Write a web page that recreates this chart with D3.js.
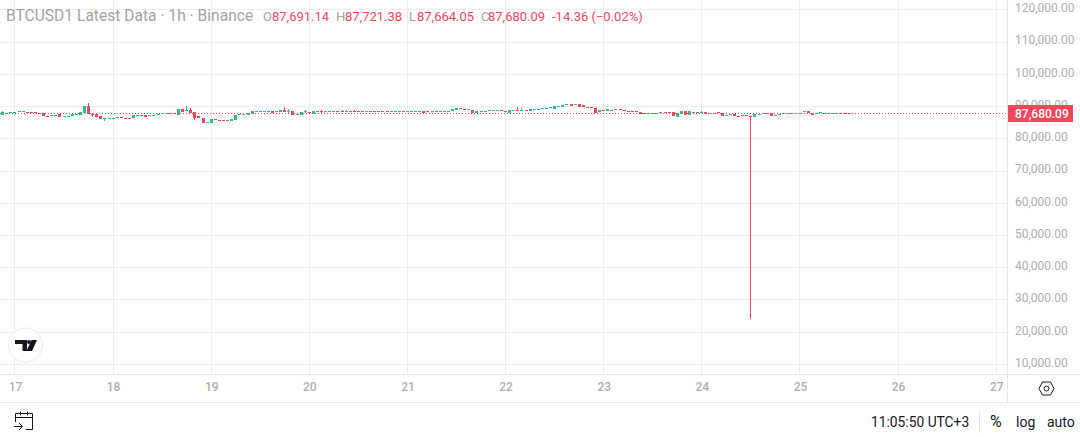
<!DOCTYPE html>
<html>
<head>
<meta charset="utf-8">
<script src="https://cdn.jsdelivr.net/npm/d3@7/dist/d3.min.js"></script>
<style>
  html, body { margin: 0; padding: 0; background: #fff; overflow: hidden; }
  svg { display: block; }
  text { font-family: Roboto, sans-serif; }
</style>
</head>
<body>
<div id="chart"></div>
<script>
const width = 1080, height = 437;

// hourly candles. candle 0 is 3 hours before the 17th
const firstHour = -3;
const opens = [
  87200,87900,87800,87900,88000,88000,88200,88000,88000,87800,
  87800,86900,86900,86900,87400,86600,86700,86800,87200,87100,
  87700,89900,87600,87400,86800,86100,86100,86000,86300,86600,
  86400,86400,86200,86800,86800,87100,86800,86800,87200,87500,
  87600,87800,87800,87400,89200,88600,88800,88200,86800,86200,
  84700,84700,85900,85800,85800,85600,85400,85600,87200,87300,
  87200,87500,88100,88200,88400,88400,88600,88100,88200,88700,
  88100,88400,87200,87200,88000,88200,87700,88500,88400,88000,
  88300,88300,88500,88600,88400,88500,88500,88500,88500,88300,
  88500,88500,88500,88500,88500,88300,88300,88300,88500,88300,
  88300,88300,88300,88500,88400,88000,88400,88300,88300,88300,
  88300,88600,89300,89000,88700,88800,87800,88000,88300,88700,
  88300,88600,88800,88600,87900,88600,88900,88600,88900,88600,
  89000,89000,89000,89300,89300,89200,89900,89900,90300,90600,
  90100,90600,90400,89800,89600,89500,88000,88700,88300,88900,
  88700,89100,88800,88600,88600,88300,88000,87900,87900,87900,
  87900,87900,88200,88100,88000,86700,87400,88400,87100,88200,
  87800,87800,88000,87400,87900,88000,87900,87100,87200,87400,
  86900,87100,87100,86900,86400,87200,87400,87600,87700,86800,
  87200,87400,87400,87400,87400,87700,87900,88300,87900,87700,
  87800,87900,87900,87700,87700,87900,87900,87900
];
const closes = [
  88000,87800,88100,88100,88300,88300,87900,87800,87800,87500,
  86800,86700,87200,87300,86500,86800,86900,87400,87500,88100,
  89900,87400,87300,86500,85800,86300,86300,86300,86600,86300,
  86200,86200,87100,87100,87100,86500,87100,87100,87400,87800,
  87800,87500,87500,89200,88200,88900,88000,86400,86200,84700,
  85100,85900,85600,85600,85600,85800,85900,87200,87600,87600,
  87800,88400,88400,88400,88600,88600,87900,88400,88700,88200,
  88400,87200,87500,88200,88300,88000,88600,88300,88100,88400,
  88500,88500,88300,88300,88600,88300,88300,88300,88300,88500,
  88300,88200,88300,88300,88300,88500,88500,88500,88300,88500,
  88500,88500,88500,87900,88000,88400,88000,88500,88500,88500,
  89000,89300,89000,88700,89000,87800,88300,88400,88500,88300,
  88700,88800,88600,88400,88800,88900,88600,88900,88600,89200,
  89200,89200,89300,89500,89600,90100,90100,90400,90700,89900,
  90500,89700,89900,89500,89300,88000,88700,88300,89000,88700,
  89000,88800,88500,88300,88400,87900,87400,87700,87700,87700,
  87700,88200,87800,87800,86700,87800,88400,87100,88300,87900,
  88100,88100,87400,87800,87700,87800,87100,87300,87400,86800,
  86800,86800,86800,86700,87400,87400,87700,87900,86800,87100,
  87600,87800,87700,87700,87800,87900,88300,87700,87400,87900,
  88100,87700,87700,87900,87900,87700,87700,87700
];
// only the candles with a wick you can see
const wickCandles = [0, 21, 22, 25, 45, 46, 47, 51, 69, 70, 74, 78, 83, 84, 86, 126, 127, 171, 183];
const wickHighs = [88300, 90800, 87900, null, 89900, 89400, null, 85300, 89700, 89200, 88900, 88700, 88900, 88900, 88900, 89800, 89500, 88500, null];
const wickLows = [null, null, 86600, 85500, null, 88100, 85800, null, null, null, null, 87800, null, null, null, null, null, null, 24100];

const priceTicks = [120000, 110000, 100000, 90000, 80000, 70000, 60000, 50000, 40000, 30000, 20000, 10000];
const dayLabels = ['17', '18', '19', '20', '21', '22', '23', '24', '25', '26', '27'];
const lastPrice = 87680.09;

const headerTitle = 'BTCUSD1 Latest Data · 1h · Binance';
const ohlcNames = ['O', 'H', 'L', 'C'];
const ohlcValues = ['87,691.14', '87,721.38', '87,664.05', '87,680.09'];
const changeText = '-14.36 (−0.02%)';

const red = '#f6465d', green = '#2ebd85', gridColor = '#eeeeee', borderColor = '#e6e6e6', labelGray = '#aeaeae';
const paneRight = 1008, paneBottom = 375, footerTop = 402;

const svg = d3.select('#chart').append('svg').attr('width', width).attr('height', height);

const x = d3.scaleLinear().domain([0, 240]).range([14.99, 996.2]);
const y = d3.scaleLinear().domain([10000, 120000]).range([364.5, 9.75]);
const snap = v => Math.floor(v) + 0.5;

const grid = svg.append('g').attr('stroke', gridColor);
grid.selectAll('line.h').data(priceTicks).join('line').attr('class', 'h')
  .attr('x1', 0).attr('x2', paneRight)
  .attr('y1', d => snap(y(d))).attr('y2', d => snap(y(d)));
grid.selectAll('line.v').data(dayLabels).join('line').attr('class', 'v')
  .attr('x1', (d, i) => snap(x(i * 24))).attr('x2', (d, i) => snap(x(i * 24)))
  .attr('y1', 0).attr('y2', paneBottom);

// frame of the axes
const frame = svg.append('g').attr('stroke', borderColor);
frame.append('line').attr('x1', 0).attr('x2', width).attr('y1', paneBottom - 0.5).attr('y2', paneBottom - 0.5);
frame.append('line').attr('x1', 0).attr('x2', width).attr('y1', footerTop + 0.5).attr('y2', footerTop + 0.5);
frame.append('line').attr('x1', paneRight - 0.5).attr('x2', paneRight - 0.5).attr('y1', 0).attr('y2', footerTop);
frame.append('line').attr('x1', 979.5).attr('x2', 979.5).attr('y1', 411).attr('y2', 433);

const candles = opens.map((open, i) => {
  const close = closes[i];
  const w = wickCandles.indexOf(i);
  return {
    i, open, close,
    high: w >= 0 && wickHighs[w] !== null ? wickHighs[w] : Math.max(open, close),
    low: w >= 0 && wickLows[w] !== null ? wickLows[w] : Math.min(open, close),
    color: close >= open ? green : red,
  };
});
const cx = d => Math.floor(x(d.i + firstHour));

const candleG = svg.append('g').attr('shape-rendering', 'crispEdges');
candleG.selectAll('rect.wick').data(candles).join('rect').attr('class', 'wick')
  .attr('x', cx).attr('width', 1)
  .attr('y', d => Math.floor(y(d.high)))
  .attr('height', d => Math.max(1, Math.round(y(d.low) - y(d.high))))
  .style('fill', d => d.color);
candleG.selectAll('rect.body').data(candles).join('rect').attr('class', 'body')
  .attr('x', d => cx(d) - 1).attr('width', 3)
  .attr('y', d => Math.floor(y(Math.max(d.open, d.close))))
  .attr('height', d => Math.max(1, Math.round(Math.abs(y(d.open) - y(d.close)))))
  .style('fill', d => d.color);

// last price line, on top of the candles
svg.append('line')
  .attr('x1', 0).attr('x2', paneRight)
  .attr('y1', snap(y(lastPrice) - 0.5)).attr('y2', snap(y(lastPrice) - 0.5))
  .attr('stroke', red).attr('stroke-dasharray', '1 2');

// price axis
const priceAxis = d3.axisRight(y).tickValues(priceTicks).tickSize(0).tickPadding(0)
  .tickFormat(d => d3.format(',.2f')(d));
const priceG = svg.append('g').attr('transform', `translate(1015,-2)`).call(priceAxis);
priceG.select('.domain').remove();
priceG.selectAll('text').attr('font-size', 12).attr('fill', labelGray)
  .style('font-family', 'Roboto, sans-serif');

// time axis
const timeAxis = d3.axisBottom(x).tickValues(dayLabels.map((d, i) => i * 24)).tickSize(0).tickPadding(0)
  .tickFormat((d, i) => dayLabels[i]);
const timeG = svg.append('g').attr('transform', 'translate(0,382.5)').call(timeAxis);
timeG.select('.domain').remove();
timeG.selectAll('text').attr('font-size', 12).attr('font-weight', 500).attr('fill', labelGray)
  .style('font-family', 'Roboto, sans-serif');

// last price tag
svg.append('rect').attr('x', 1008).attr('y', 105).attr('width', 65).attr('height', 17).attr('fill', red);
svg.append('text').attr('x', 1015).attr('y', 117.5).attr('font-size', 12).attr('font-weight', 500)
  .attr('fill', '#fff').text(d3.format(',.2f')(lastPrice));

// header
svg.append('text').attr('x', 6).attr('y', 21).attr('font-size', 15.6).attr('fill', '#a3a3a3').text(headerTitle);
const ohlcX = [263, 336, 409, 481];
const ohlcValX = [272, 345, 417, 488];
ohlcNames.forEach((n, i) => {
  svg.append('text').attr('x', ohlcX[i]).attr('y', 20.5).attr('font-size', 13).attr('fill', '#a3a3a3').text(n);
  svg.append('text').attr('x', ohlcValX[i]).attr('y', 20.5).attr('font-size', 13).attr('fill', red).text(ohlcValues[i]);
});
svg.append('text').attr('x', 552).attr('y', 20.5).attr('font-size', 13).attr('fill', red).text(changeText);

// logo
svg.append('circle').attr('cx', 25.5).attr('cy', 345).attr('r', 17).attr('fill', '#fff').attr('stroke', '#ececec').attr('stroke-width', 1);
svg.append('path')
  .attr('d', 'M15 340h12v11h-4.5v-7H15z M37 340L32 351h-5.5L31.5 340z')
  .attr('fill', '#131722');
svg.append('circle').attr('cx', 29).attr('cy', 342).attr('r', 2).attr('fill', '#131722');

// calendar icon
svg.append('path')
  .attr('d', 'M15.5 422v-8.5h17v16h-7 M15.5 417.5h17 M20.5 411.5v4 M27.5 411.5v4 M14 426.5h8 M19 423l3.5 3.5l-3.5 3.5')
  .attr('fill', 'none').attr('stroke', '#131722').attr('stroke-width', 1);

// settings hexagon
svg.append('path')
  .attr('d', 'M1039 388.5l3.5-6.5h8l3.5 6.5l-3.5 6.5h-8z')
  .attr('fill', 'none').attr('stroke', '#131722').attr('stroke-width', 1);
svg.append('circle').attr('cx', 1046.5).attr('cy', 388.5).attr('r', 2.5)
  .attr('fill', 'none').attr('stroke', '#131722').attr('stroke-width', 1);

// footer
const footerTexts = ['11:05:50 UTC+3', '%', 'log', 'auto'];
const footerX = [871, 990, 1016, 1047];
const footerSize = [13.8, 16, 14, 14];
footerTexts.forEach((t, i) => {
  svg.append('text').attr('x', footerX[i]).attr('y', 427).attr('font-size', footerSize[i]).attr('fill', '#131722').text(t);
});
</script>
</body>
</html>
